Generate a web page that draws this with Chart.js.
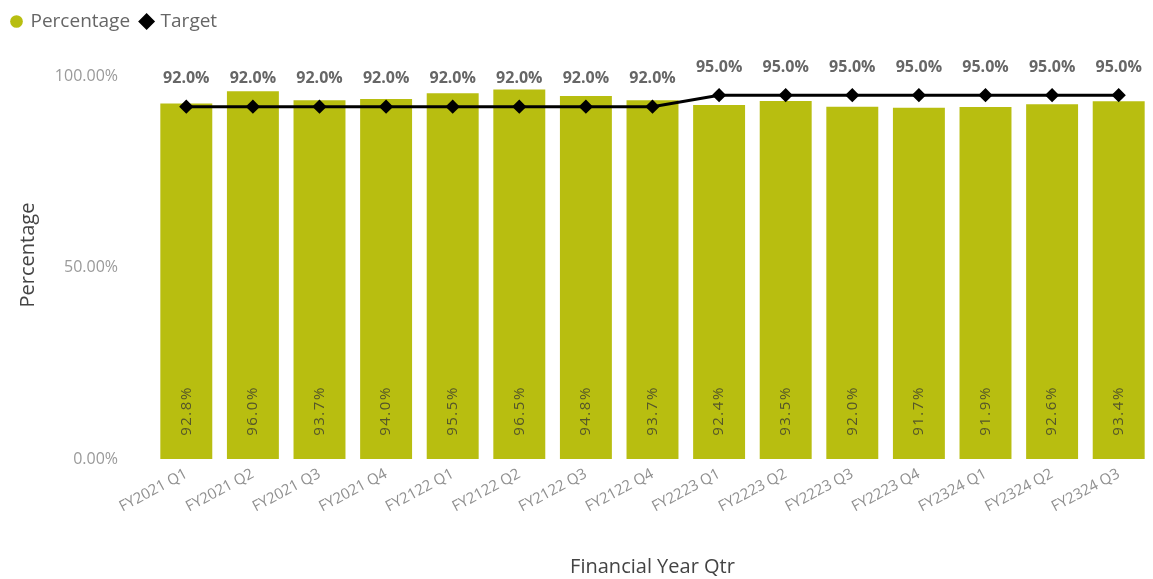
<!DOCTYPE html>
<html>
<head>
<meta charset="utf-8">
<script src="https://cdn.jsdelivr.net/npm/chart.js@4/dist/chart.umd.min.js"></script>
<style>
  html, body { margin: 0; padding: 0; background: #ffffff; overflow: hidden; }
  #wrap { position: relative; width: 1160px; height: 579px; }
</style>
</head>
<body>
<div id="wrap"><canvas id="chart"></canvas></div>
<script>
// Quarterly results against target
const quarters = ['FY2021 Q1', 'FY2021 Q2', 'FY2021 Q3', 'FY2021 Q4',
                  'FY2122 Q1', 'FY2122 Q2', 'FY2122 Q3', 'FY2122 Q4',
                  'FY2223 Q1', 'FY2223 Q2', 'FY2223 Q3', 'FY2223 Q4',
                  'FY2324 Q1', 'FY2324 Q2', 'FY2324 Q3'];
const percentage = [92.8, 96.0, 93.7, 94.0, 95.5, 96.5, 94.8, 93.7,
                    92.4, 93.5, 92.0, 91.7, 91.9, 92.6, 93.4];
const target = [92, 92, 92, 92, 92, 92, 92, 92,
                95, 95, 95, 95, 95, 95, 95];
const yTicks = [0, 50, 100];

const FONT = "'Segoe UI', 'Open Sans', sans-serif";
const BAR_COLOR = '#b8be10';

// Reserve the band above the plot for the legend
const legendSpacer = {
  id: 'legendSpacer',
  beforeInit(chart) {
    const fit = chart.legend.fit;
    chart.legend.fit = function () {
      fit.call(this);
      this.height = 76;
    };
  }
};

// Value labels and the axis titles
const labelsPlugin = {
  id: 'valueLabels',
  afterDatasetsDraw(chart) {
    const ctx = chart.ctx;
    const y = chart.scales.y;
    const area = chart.chartArea;
    const base = y.getPixelForValue(0);

    // percentage values, written upward inside each bar
    const barMeta = chart.getDatasetMeta(0);
    ctx.save();
    ctx.font = '15px ' + FONT;
    ctx.fillStyle = '#55562a';
    ctx.textAlign = 'center';
    ctx.textBaseline = 'middle';
    if ('letterSpacing' in ctx) ctx.letterSpacing = '1.5px';
    barMeta.data.forEach((bar, i) => {
      ctx.save();
      ctx.translate(bar.x, base - 48);
      ctx.rotate(-Math.PI / 2);
      ctx.fillText(percentage[i].toFixed(1) + '%', 0, 0);
      ctx.restore();
    });
    ctx.restore();

    // target values above the line markers
    const lineMeta = chart.getDatasetMeta(1);
    ctx.save();
    ctx.font = 'bold 16px ' + FONT;
    ctx.fillStyle = '#666666';
    ctx.textAlign = 'center';
    ctx.textBaseline = 'middle';
    lineMeta.data.forEach((pt, i) => {
      ctx.fillText(target[i].toFixed(1) + '%', pt.x, pt.y - 28);
    });
    ctx.restore();

    // axis titles
    ctx.save();
    ctx.fillStyle = '#444444';
    ctx.font = '20px ' + FONT;
    ctx.textAlign = 'center';
    ctx.textBaseline = 'middle';
    ctx.fillText('Financial Year Qtr', (area.left + area.right) / 2, 567);
    ctx.translate(28, 255);
    ctx.rotate(-Math.PI / 2);
    ctx.fillText('Percentage', 0, 0);
    ctx.restore();
  }
};

new Chart(document.getElementById('chart'), {
  data: {
    labels: quarters,
    datasets: [
      {
        type: 'bar',
        label: 'Percentage',
        data: percentage,
        backgroundColor: BAR_COLOR,
        borderWidth: 0,
        barPercentage: 0.78,
        categoryPercentage: 1.0,
        order: 2
      },
      {
        type: 'line',
        label: 'Target',
        data: target,
        borderColor: '#000000',
        backgroundColor: '#000000',
        borderWidth: 3,
        pointStyle: 'rectRot',
        pointRadius: 5,
        pointBackgroundColor: '#000000',
        pointBorderColor: '#000000',
        tension: 0,
        order: 1
      }
    ]
  },
  options: {
    responsive: true,
    maintainAspectRatio: false,
    animation: false,
    layout: { padding: { left: 0, right: 0, top: 0, bottom: 0 } },
    plugins: {
      legend: {
        position: 'top',
        align: 'start',
        labels: {
          usePointStyle: true,
          boxHeight: 9,
          boxWidth: 9,
          padding: 12,
          color: '#666666',
          font: { family: FONT, size: 19 },
          sort: (a, b) => a.datasetIndex - b.datasetIndex
        }
      },
      tooltip: { enabled: false }
    },
    scales: {
      x: {
        grid: { display: false, drawTicks: false },
        border: { display: false },
        ticks: {
          color: '#8f8f8f',
          font: { family: FONT, size: 15 },
          minRotation: 28,
          maxRotation: 28,
          padding: 6,
          autoSkip: false
        },
        afterFit(scale) { scale.height = 120; }
      },
      y: {
        min: 0,
        max: 100,
        grid: { display: false, drawTicks: false },
        border: { display: false },
        afterBuildTicks(scale) {
          scale.ticks = yTicks.map(v => ({ value: v }));
        },
        ticks: {
          color: '#9a9a9a',
          font: { family: FONT, size: 16 },
          padding: 35,
          callback: v => v.toFixed(2) + '%'
        },
        afterFit(scale) { scale.width = 153; }
      }
    }
  },
  plugins: [legendSpacer, labelsPlugin]
});
</script>
</body>
</html>
